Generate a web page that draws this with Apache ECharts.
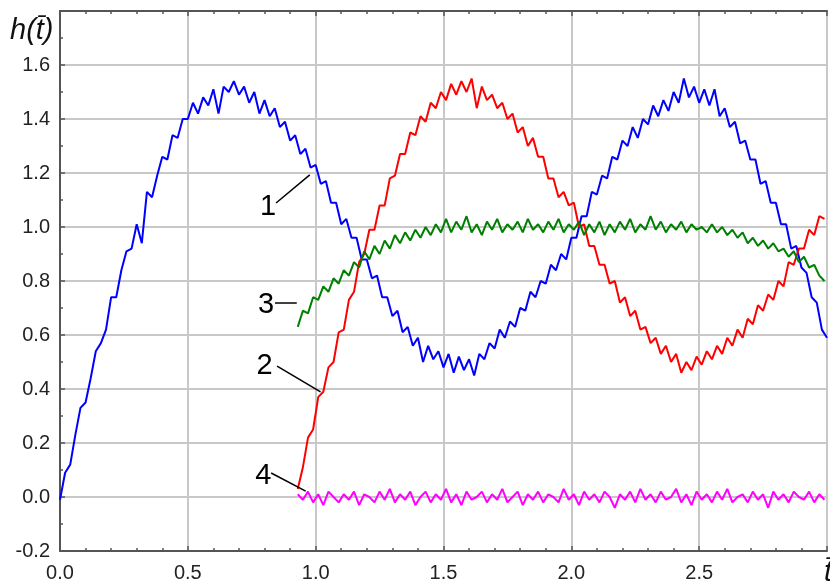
<!DOCTYPE html>
<html>
<head>
<meta charset="utf-8">
<script src="https://cdn.jsdelivr.net/npm/echarts/dist/echarts.min.js"></script>
<style>
  html, body { margin: 0; padding: 0; background: #fff; }
  #chart { width: 830px; height: 586px; }
</style>
</head>
<body>
<div id="chart"></div>
<script>
// sampling of the curves (t step)
var step = 0.02;

// curve 1 (blue), t from 0.00
var t1Start = 0.00;
var h1 = [
  -0.01,0.09,0.12,0.23,0.33,0.35,0.44,0.54,0.57,0.62,
  0.74,0.74,0.84,0.91,0.92,1.01,0.94,1.13,1.11,1.19,
  1.26,1.25,1.34,1.33,1.40,1.40,1.46,1.42,1.48,1.45,
  1.51,1.42,1.52,1.50,1.54,1.49,1.52,1.46,1.50,1.42,
  1.47,1.41,1.44,1.37,1.39,1.32,1.34,1.27,1.29,1.22,
  1.23,1.16,1.17,1.09,1.09,1.01,1.03,0.96,0.96,0.88,
  0.88,0.81,0.82,0.74,0.74,0.67,0.69,0.61,0.63,0.56,
  0.59,0.50,0.56,0.51,0.54,0.48,0.53,0.46,0.52,0.47,
  0.51,0.45,0.53,0.51,0.57,0.55,0.62,0.59,0.65,0.63,
  0.70,0.69,0.76,0.74,0.80,0.79,0.86,0.84,0.90,0.88,
  0.96,0.96,1.04,1.04,1.13,1.12,1.19,1.18,1.26,1.25,
  1.32,1.30,1.37,1.33,1.40,1.38,1.45,1.41,1.47,1.43,
  1.50,1.46,1.55,1.48,1.52,1.46,1.51,1.45,1.51,1.41,
  1.44,1.37,1.39,1.31,1.32,1.25,1.25,1.16,1.17,1.09,
  1.09,1.01,1.01,0.92,0.93,0.85,0.83,0.74,0.72,0.62,
  0.59
];

// curves 2, 3, 4 start at t = 0.93
var t2Start = 0.93;
var h2 = [
  0.03,0.11,0.22,0.25,0.37,0.39,0.48,0.50,0.61,0.62,
  0.73,0.76,0.87,0.90,0.99,0.99,1.08,1.08,1.18,1.19,
  1.27,1.27,1.35,1.34,1.41,1.39,1.46,1.44,1.50,1.47,
  1.53,1.49,1.54,1.50,1.55,1.44,1.52,1.47,1.49,1.44,
  1.46,1.40,1.42,1.35,1.37,1.30,1.33,1.26,1.26,1.18,
  1.18,1.11,1.13,1.08,1.09,1.00,1.01,0.93,0.93,0.86,
  0.86,0.79,0.80,0.72,0.74,0.67,0.69,0.62,0.63,0.57,
  0.59,0.53,0.56,0.50,0.53,0.46,0.50,0.47,0.52,0.49,
  0.54,0.51,0.56,0.53,0.59,0.56,0.62,0.59,0.66,0.64,
  0.71,0.69,0.75,0.73,0.80,0.78,0.87,0.86,0.92,0.92,
  0.99,0.97,1.04,1.03
];
var h3 = [
  0.63,0.69,0.68,0.74,0.73,0.78,0.76,0.81,0.79,0.84,
  0.82,0.87,0.85,0.91,0.88,0.93,0.90,0.95,0.92,0.97,
  0.94,0.98,0.95,0.99,0.96,1.00,0.97,1.01,0.98,1.03,
  0.98,1.02,0.99,1.04,0.98,1.01,0.97,1.02,0.99,1.03,
  0.98,1.01,0.99,1.02,0.98,1.03,0.99,1.01,0.98,1.02,
  0.99,1.03,0.98,1.01,0.99,1.02,0.97,1.01,0.98,1.02,
  0.97,1.01,0.98,1.02,0.99,1.03,0.98,1.01,0.99,1.04,
  0.99,1.02,0.98,1.01,0.99,1.02,0.98,1.01,0.99,1.00,
  0.98,1.01,0.98,1.00,0.97,0.99,0.96,0.98,0.94,0.96,
  0.93,0.95,0.92,0.94,0.91,0.92,0.89,0.91,0.87,0.89,
  0.85,0.86,0.82,0.80
];
var h4 = [
  0.01,-0.01,0.02,-0.02,0.01,-0.03,0.02,0.00,-0.02,0.01,
  -0.01,0.02,-0.03,0.01,0.00,-0.02,0.02,-0.01,0.03,-0.02,
  0.01,-0.01,0.02,-0.03,0.00,0.02,-0.02,0.01,-0.01,0.03,
  -0.02,0.01,-0.03,0.02,-0.01,0.00,0.02,-0.02,0.01,-0.01,
  0.03,-0.02,0.00,0.02,-0.03,0.01,-0.01,0.02,-0.02,0.01,
  0.00,-0.02,0.03,-0.01,0.01,-0.03,0.02,-0.01,0.01,-0.02,
  0.02,0.00,-0.04,0.01,-0.01,0.02,-0.02,0.03,-0.01,0.01,
  -0.02,0.02,-0.01,0.00,0.03,-0.02,0.01,-0.03,0.02,-0.01,
  0.01,-0.02,0.02,-0.01,0.03,-0.02,0.00,0.01,-0.02,0.02,
  -0.01,0.01,-0.04,0.02,-0.01,0.01,-0.02,0.02,0.00,-0.01,
  0.02,-0.02,0.01,-0.01
];

var curveNames = ['1', '2', '3', '4'];
var curveColors = ['#0000ff', '#ff0000', '#008000', '#ff00ff'];

// curve number labels: text position and leader line [from, to] in (t, h)
var labelPos = [[0.814, 1.074], [0.800, 0.485], [0.806, 0.711], [0.795, 0.078]];
var leaderFrom = [[0.845, 1.089], [0.849, 0.485], [0.841, 0.719], [0.826, 0.089]];
var leaderTo = [[0.977, 1.193], [1.019, 0.389], [0.926, 0.719], [0.961, 0.022]];

function toPairs(start, arr) {
  var out = [];
  for (var i = 0; i < arr.length; i++) {
    out.push([+(start + i * step).toFixed(2), arr[i]]);
  }
  return out;
}

var curves = [toPairs(t1Start, h1), toPairs(t2Start, h2), toPairs(t2Start, h3), toPairs(t2Start, h4)];

var axisColor = '#555555';
var gridColor = '#c8c8c8';
var fontFam = '"Liberation Sans", Arial, sans-serif';

var myChart = echarts.init(document.getElementById('chart'), null, { renderer: 'canvas' });

var series = [];
for (var k = 0; k < curves.length; k++) {
  series.push({
    name: curveNames[k],
    type: 'line',
    data: curves[k],
    showSymbol: false,
    symbol: 'none',
    lineStyle: { color: curveColors[k], width: 2 },
    itemStyle: { color: curveColors[k] },
    z: 2 + k,
    silent: true,
    markLine: {
      silent: true,
      symbol: ['none', 'none'],
      label: { show: false },
      lineStyle: { color: '#000', width: 1.5, type: 'solid' },
      data: [[{ coord: leaderFrom[k] }, { coord: leaderTo[k] }]]
    },
    markPoint: {
      silent: true,
      symbol: 'rect',
      symbolSize: 1,
      itemStyle: { color: 'rgba(0,0,0,0)' },
      label: {
        show: true,
        position: 'inside',
        formatter: curveNames[k],
        color: '#000',
        fontSize: 29,
        fontFamily: fontFam
      },
      data: [{ coord: labelPos[k] }]
    }
  });
}

var option = {
  animation: false,
  backgroundColor: '#ffffff',
  grid: { left: 60, top: 11, width: 775, height: 540, containLabel: false },
  xAxis: [
    {
      type: 'value', min: 0, max: 3.0, interval: 0.5,
      axisLine: { show: true, onZero: false, lineStyle: { color: axisColor, width: 2 } },
      axisTick: { show: true, inside: true, length: 5, lineStyle: { color: axisColor, width: 1.5 } },
      minorTick: { show: true, splitNumber: 5, length: 3, lineStyle: { color: axisColor, width: 1.5 } },
      splitLine: { show: true, lineStyle: { color: gridColor, width: 2 } },
      axisLabel: {
        fontSize: 20, color: '#222', fontFamily: fontFam, margin: 12,
        formatter: function (v) { return v >= 2.99 ? '' : v.toFixed(1); }
      }
    },
    {
      type: 'value', min: 0, max: 3.0, interval: 0.5, position: 'top',
      axisLine: { show: true, onZero: false, lineStyle: { color: axisColor, width: 2 } },
      axisTick: { show: true, inside: true, length: 5, lineStyle: { color: axisColor, width: 1.5 } },
      minorTick: { show: true, splitNumber: 5, length: 3, lineStyle: { color: axisColor, width: 1.5 } },
      splitLine: { show: false },
      axisLabel: { show: false }
    }
  ],
  yAxis: {
    type: 'value', min: -0.2, max: 1.8, interval: 0.2,
    axisLine: { show: true, onZero: false, lineStyle: { color: axisColor, width: 2 } },
    axisTick: { show: true, inside: true, length: 5, lineStyle: { color: axisColor, width: 1.5 } },
    minorTick: { show: true, splitNumber: 2, length: 3, lineStyle: { color: axisColor, width: 1.5 } },
    splitLine: { show: true, lineStyle: { color: gridColor, width: 2 } },
    axisLabel: {
      fontSize: 20, color: '#222', fontFamily: fontFam, margin: 10,
      formatter: function (v) { return v >= 1.79 ? '' : v.toFixed(1); }
    }
  },
  graphic: [
    {
      type: 'text', left: 10, top: 16,
      style: { text: 'h(t\u0304)', font: 'italic 29px "Liberation Sans", Arial, sans-serif', fill: '#111' }
    },
    {
      type: 'text', left: 824, top: 558,
      style: { text: 't\u0304', font: 'italic 29px "Liberation Sans", Arial, sans-serif', fill: '#111' }
    }
  ],
  series: series
};

myChart.setOption(option);
</script>
</body>
</html>
